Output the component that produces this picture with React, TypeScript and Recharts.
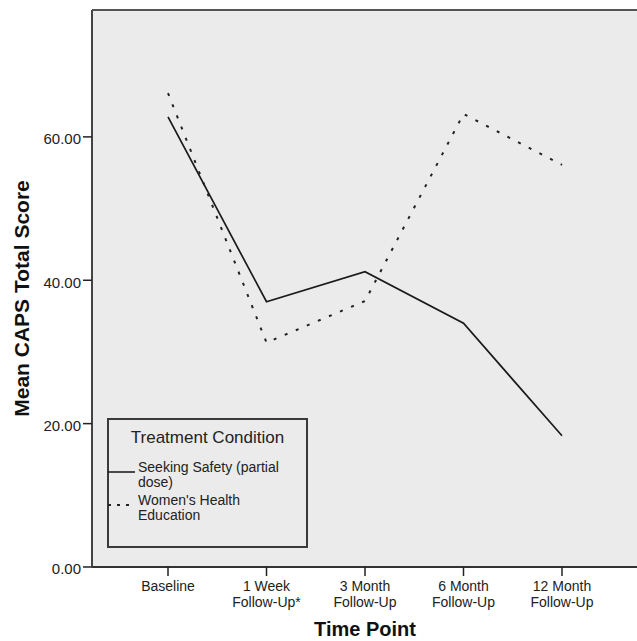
import {
  CartesianGrid,
  Legend,
  Line,
  LineChart,
  ReferenceLine,
  XAxis,
  YAxis,
} from "recharts";

const timePoints = [
  "Baseline",
  "1 Week\nFollow-Up*",
  "3 Month\nFollow-Up",
  "6 Month\nFollow-Up",
  "12 Month\nFollow-Up",
];
const seekingSafety = [62.8, 37.0, 41.2, 34.0, 18.3];
const womensHealth = [66.1, 31.3, 37.1, 63.2, 56.1];
const yTicks = [0, 20, 40, 60];
const yMax = 77.7;

const seriesNames = ["Seeking Safety (partial dose)", "Women's Health Education"];
const legendLines = [
  ["Seeking Safety (partial", "dose)"],
  ["Women's Health", "Education"],
];
const seriesDash = ["", "3 9"];

const FONT = '"Liberation Sans", Arial, sans-serif';
const INK = "#222";

const data = timePoints.map((t, i) => ({
  time: t,
  ss: seekingSafety[i],
  whe: womensHealth[i],
}));

function TimeTick(props: any) {
  const { x, y, payload } = props;
  const lines = String(payload.value).split("\n");
  return (
    <g>
      {lines.map((l, i) => (
        <text
          key={i}
          x={x}
          y={y + 13 + i * 15.5}
          textAnchor="middle"
          fill={INK}
          fontSize={14}
          fontFamily={FONT}
        >
          {l}
        </text>
      ))}
    </g>
  );
}

function YTitle(props: any) {
  const vb = props.viewBox;
  const cx = vb.x + 21;
  const cy = vb.y + vb.height / 2 + 10;
  return (
    <text
      x={cx}
      y={cy}
      transform={`rotate(-90 ${cx} ${cy})`}
      textAnchor="middle"
      dominantBaseline="central"
      fontSize={21}
      fontWeight="bold"
      fill="#111"
      fontFamily={FONT}
    >
      Mean CAPS Total Score
    </text>
  );
}

function TreatmentLegend(props: any) {
  const items = props.payload || [];
  return (
    <svg width={201} height={130} style={{ display: "block" }}>
      <rect x={1} y={1} width={199} height={128} fill="none" stroke="#3a3a3a" strokeWidth={2} />
      <text x={100.5} y={25} textAnchor="middle" fontSize={17} fill={INK} fontFamily={FONT}>
        Treatment Condition
      </text>
      {items.map((item: any, i: number) => {
        const idx = seriesNames.indexOf(item.value);
        const k = idx < 0 ? i : idx;
        const base = 54 + k * 33;
        return (
          <g key={item.value}>
            <line
              x1={1}
              x2={28}
              y1={base}
              y2={base}
              stroke={INK}
              strokeWidth={k === 0 ? 1.6 : 2}
              strokeDasharray={k === 0 ? undefined : "3 6"}
            />
            <text x={31} y={base} fontSize={14} fill={INK} fontFamily={FONT}>
              {legendLines[k].map((l, j) => (
                <tspan key={j} x={31} dy={j === 0 ? 0 : 14.5}>
                  {l}
                </tspan>
              ))}
            </text>
          </g>
        );
      })}
    </svg>
  );
}

export default function App() {
  return (
    <div
      style={{
        position: "absolute",
        left: 0,
        top: 0,
        width: 637,
        height: 641,
        overflow: "hidden",
        background: "#fff",
        fontFamily: FONT,
      }}
    >
      <LineChart
        width={638}
        height={641}
        data={data}
        margin={{ top: 10, right: 0, left: 0, bottom: 0 }}
      >
        <CartesianGrid fill="#ebebeb" stroke="none" horizontal={false} vertical={false} />
        <XAxis
          dataKey="time"
          interval={0}
          padding={{ left: 76, right: 76 }}
          height={74}
          tickSize={9}
          tickMargin={2}
          tick={<TimeTick />}
          tickLine={{ stroke: "#222", strokeWidth: 1.5 }}
          axisLine={{ stroke: "#333", strokeWidth: 2 }}
          label={{
            value: "Time Point",
            position: "insideBottom",
            offset: 5,
            fontSize: 20,
            fontWeight: "bold",
            fill: "#111",
          }}
        />
        <YAxis
          type="number"
          domain={[0, yMax]}
          ticks={yTicks}
          width={92}
          tickSize={9}
          tickMargin={2}
          tickFormatter={(v: number) => v.toFixed(2)}
          tick={{ fontSize: 15, fill: INK, fontFamily: FONT, dy: 2 }}
          tickLine={{ stroke: "#222", strokeWidth: 1.5 }}
          axisLine={{ stroke: "#444", strokeWidth: 2 }}
          label={<YTitle />}
        />
        <ReferenceLine y={yMax} stroke="#555" strokeWidth={2} />
        <Line
          dataKey="ss"
          name={seriesNames[0]}
          type="linear"
          stroke="#1a1a1a"
          strokeWidth={1.7}
          dot={false}
          activeDot={false}
          isAnimationActive={false}
        />
        <Line
          dataKey="whe"
          name={seriesNames[1]}
          type="linear"
          stroke="#222"
          strokeWidth={2}
          strokeDasharray={seriesDash[1]}
          dot={false}
          activeDot={false}
          isAnimationActive={false}
        />
        <Legend
          layout="vertical"
          align="center"
          verticalAlign="middle"
          width={201}
          height={130}
          wrapperStyle={{ left: 107, top: 418, width: 201, height: 130 }}
          content={<TreatmentLegend />}
        />
      </LineChart>
    </div>
  );
}
